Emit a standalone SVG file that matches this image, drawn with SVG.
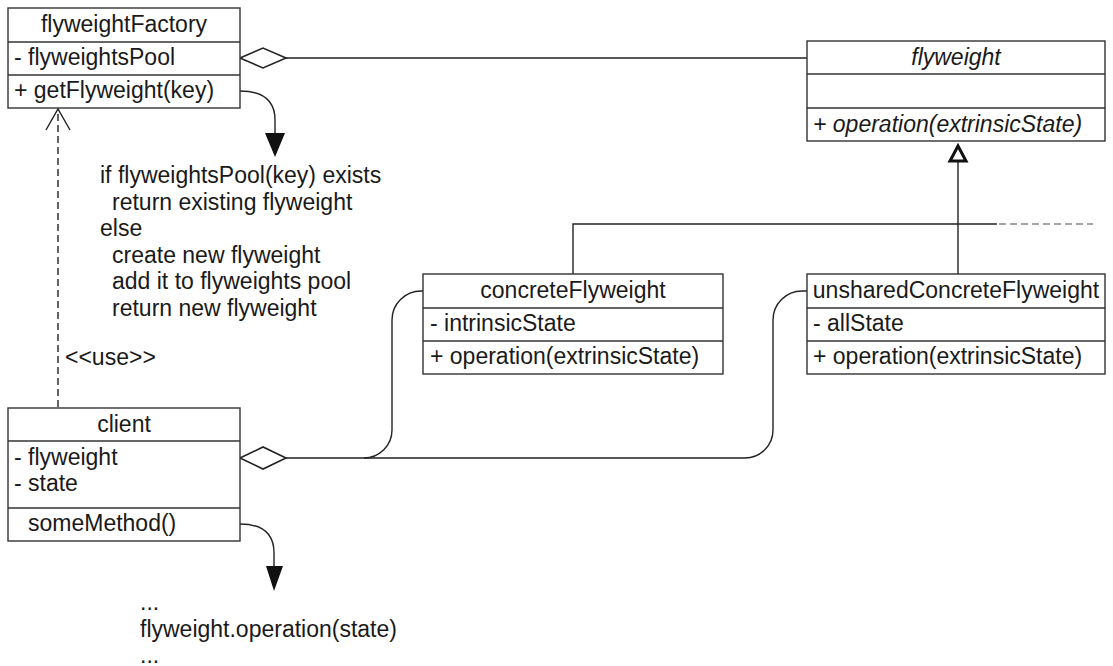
<svg xmlns="http://www.w3.org/2000/svg" width="1113" height="666" viewBox="0 0 1113 666">
<style>
.box{fill:#fff;stroke:#333;stroke-width:1.4}
.div{stroke:#333;stroke-width:1.4}
.t{font-family:"Liberation Sans",Arial,sans-serif;font-size:23px;fill:#1a1a1a}
.c{text-anchor:middle}
.i{font-style:italic}
.ln{fill:none;stroke:#222;stroke-width:1.4}
</style>
<rect width="1113" height="666" fill="#fff"/>
<g id="connectors">
  <line class="ln" x1="286" y1="58" x2="807" y2="58"/>
  <polygon points="240,58 263,48 286,58 263,68" fill="#fff" stroke="#222" stroke-width="1.6"/>
  <line class="ln" x1="958" y1="161" x2="958" y2="274"/>
  <polygon points="958,146 950,161 966,161" fill="#fff" stroke="#111" stroke-width="3"/>
  <path class="ln" d="M573,274 V224 H997"/>
  <line x1="999" y1="224" x2="1093" y2="224" stroke="#888" stroke-width="1.4" stroke-dasharray="7,4"/>
  <line x1="58" y1="407" x2="58" y2="110" stroke="#222" stroke-width="1.4" stroke-dasharray="7,4"/>
  <path class="ln" d="M46,130 L58,109 L70,130"/>
  <path class="ln" d="M286,458 H745 A28,28 0 0 0 773,430 V320 A29,29 0 0 1 802,291 H807"/>
  <path class="ln" d="M364,458 A28,28 0 0 0 392,430 V320 A29,29 0 0 1 421,291 H423"/>
  <polygon points="240,458 263,447 286,458 263,469" fill="#fff" stroke="#222" stroke-width="1.6"/>
  <path class="ln" d="M240,91 C262,91 275,100 275,120 V134"/>
  <polygon points="265,133 285,133 275,157" fill="#111"/>
  <path class="ln" d="M240,524 C262,524 274,533 274,553 V566"/>
  <polygon points="266,566 283,566 274,591" fill="#111"/>
</g>
<g id="flyweightFactory">
  <rect class="box" x="8" y="8" width="232" height="100"/>
  <line class="div" x1="8" y1="42" x2="240" y2="42"/>
  <line class="div" x1="8" y1="75" x2="240" y2="75"/>
  <text class="t c" x="124" y="32">flyweightFactory</text>
  <text class="t" x="14" y="65">- flyweightsPool</text>
  <text class="t" x="14" y="98">+ getFlyweight(key)</text>
</g>
<g id="flyweight">
  <rect class="box" x="807" y="41" width="298" height="100"/>
  <line class="div" x1="807" y1="74" x2="1105" y2="74"/>
  <line class="div" x1="807" y1="108" x2="1105" y2="108"/>
  <text class="t c i" x="956" y="65">flyweight</text>
  <text class="t i" x="813" y="132">+ operation(extrinsicState)</text>
</g>
<g id="concreteFlyweight">
  <rect class="box" x="423" y="274" width="300" height="100"/>
  <line class="div" x1="423" y1="308" x2="723" y2="308"/>
  <line class="div" x1="423" y1="341" x2="723" y2="341"/>
  <text class="t c" x="573" y="298">concreteFlyweight</text>
  <text class="t" x="430" y="331">- intrinsicState</text>
  <text class="t" x="430" y="364">+ operation(extrinsicState)</text>
</g>
<g id="unsharedConcreteFlyweight">
  <rect class="box" x="807" y="274" width="298" height="100"/>
  <line class="div" x1="807" y1="308" x2="1105" y2="308"/>
  <line class="div" x1="807" y1="341" x2="1105" y2="341"/>
  <text class="t c" x="956" y="298">unsharedConcreteFlyweight</text>
  <text class="t" x="813" y="331">- allState</text>
  <text class="t" x="813" y="364">+ operation(extrinsicState)</text>
</g>
<g id="client">
  <rect class="box" x="8" y="408" width="232" height="133"/>
  <line class="div" x1="8" y1="441" x2="240" y2="441"/>
  <line class="div" x1="8" y1="508" x2="240" y2="508"/>
  <text class="t c" x="124" y="432">client</text>
  <text class="t" x="14" y="465">- flyweight</text>
  <text class="t" x="14" y="491">- state</text>
  <text class="t" x="28" y="531">someMethod()</text>
</g>
<g id="factoryNote">
  <text class="t" x="100" y="183">if flyweightsPool(key) exists</text>
  <text class="t" x="112" y="210">return existing flyweight</text>
  <text class="t" x="100" y="236">else</text>
  <text class="t" x="112" y="263">create new flyweight</text>
  <text class="t" x="112" y="289">add it to flyweights pool</text>
  <text class="t" x="112" y="316">return new flyweight</text>
</g>
<g id="useLabel">
  <text class="t" x="65" y="365">&lt;&lt;use&gt;&gt;</text>
</g>
<g id="clientNote">
  <text class="t" x="140" y="610">...</text>
  <text class="t" x="140" y="637">flyweight.operation(state)</text>
  <text class="t" x="140" y="663">...</text>
</g>
</svg>
